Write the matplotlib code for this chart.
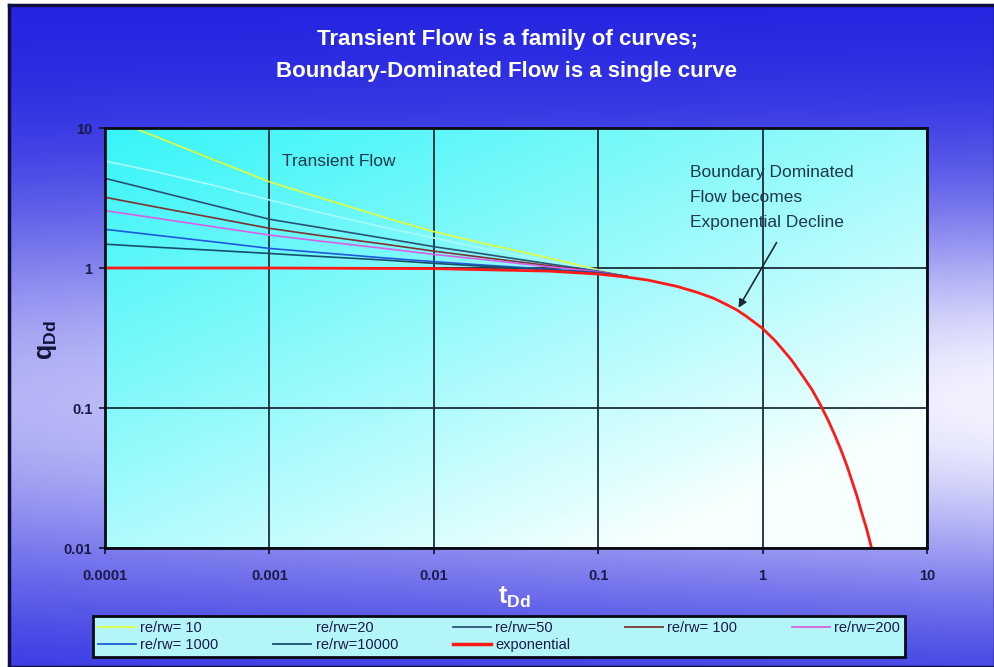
import numpy as np
import matplotlib
matplotlib.use("Agg")
import matplotlib.pyplot as plt
from matplotlib.ticker import FixedLocator, FixedFormatter, NullLocator
from matplotlib.lines import Line2D

# ---------------- data ----------------
t_transient = [1e-4, 2e-4, 5e-4, 1e-3, 2e-3, 5e-3, 1e-2, 2e-2, 5e-2, 1e-1, 1.5e-1]
t_rerw10 = [1.5e-4, 2e-4, 5e-4, 1e-3, 2e-3, 5e-3, 1e-2, 2e-2, 5e-2, 1e-1, 1.5e-1]
q_rerw10 = [10.0, 8.75, 5.7, 4.13, 3.2, 2.3, 1.82, 1.5, 1.18, 0.97, 0.87]
q_rerw20 = [5.8, 4.9, 3.8, 3.06, 2.5, 1.95, 1.64, 1.38, 1.12, 0.96, 0.87]
q_rerw50 = [4.37, 3.57, 2.73, 2.23, 1.95, 1.63, 1.42, 1.26, 1.07, 0.95, 0.87]
q_rerw100 = [3.2, 2.74, 2.24, 1.92, 1.71, 1.48, 1.32, 1.19, 1.04, 0.94, 0.87]
q_rerw200 = [2.57, 2.28, 1.94, 1.72, 1.56, 1.38, 1.25, 1.15, 1.02, 0.94, 0.87]
q_rerw1000 = [1.89, 1.72, 1.52, 1.38, 1.29, 1.18, 1.11, 1.05, 0.98, 0.93, 0.87]
q_rerw10000 = [1.48, 1.41, 1.33, 1.27, 1.21, 1.14, 1.08, 1.03, 0.97, 0.92, 0.87]

t_exp = [1e-4, 1e-3, 1e-2, 0.05, 0.1, 0.15, 0.2, 0.3, 0.4, 0.5, 0.6, 0.7, 0.8, 1.0,
         1.2, 1.5, 1.75, 2.0, 2.25, 2.5, 2.75, 3.0, 3.25, 3.5, 3.75, 4.0, 4.3, 4.6]
q_exp = [1.0, 1.0, 0.99, 0.95, 0.905, 0.86, 0.82, 0.74, 0.67, 0.61, 0.55, 0.50, 0.45, 0.37,
         0.30, 0.22, 0.17, 0.135, 0.105, 0.082, 0.064, 0.05, 0.039, 0.03, 0.0235, 0.018,
         0.0136, 0.01]

series_labels = ["re/rw= 10", "re/rw=20", "re/rw=50", "re/rw= 100", "re/rw=200",
                 "re/rw= 1000", "re/rw=10000", "exponential"]
x_tick_values = [1e-4, 1e-3, 1e-2, 1e-1, 1, 10]
x_tick_labels = ["0.0001", "0.001", "0.01", "0.1", "1", "10"]
y_tick_values = [0.01, 0.1, 1, 10]
y_tick_labels = ["0.01", "0.1", "1", "10"]

title_lines = ["Transient Flow is a family of curves;", "Boundary-Dominated Flow is a single curve"]

# ---------------- style ----------------
plt.rcParams['font.family'] = ['Liberation Sans', 'DejaVu Sans']
plt.rcParams['mathtext.fontset'] = 'custom'
plt.rcParams['mathtext.rm'] = 'Liberation Sans'
plt.rcParams['mathtext.bf'] = 'Liberation Sans:bold'

W, H = 995, 667
fig = plt.figure(figsize=(W / 100, H / 100), dpi=100)
fig.patch.set_facecolor('white')

# background gradient (whole figure)
bg = fig.add_axes([9 / W, 0, 1 - 9 / W, 1 - 5 / H], zorder=-10)
ny, nx = 200, 200
yy, xx = np.mgrid[0:1:ny * 1j, 0:1:nx * 1j]  # yy: 0 at top
ypx = yy * H
L = np.exp(-((ypx - 400) / 210.0) ** 2) * (0.70 + 0.30 * xx)
blue = np.array([0.13, 0.13, 0.88])
light = np.array([0.95, 0.95, 1.0])
img = blue[None, None, :] + (light - blue)[None, None, :] * L[..., None]
bg.imshow(img, aspect='auto', extent=[0, 1, 0, 1], origin='upper')
bg.set_xlim(0, 1)
bg.set_ylim(0, 1)
bg.set_xticks([])
bg.set_yticks([])
for s in bg.spines.values():
    s.set_color('#101040')
    s.set_linewidth(2.5)

# main axes
ax = fig.add_axes([105 / W, 1 - 548 / H, 822 / W, 420 / H])
ax.set_xscale('log')
ax.set_yscale('log')
ax.set_xlim(1e-4, 10)
ax.set_ylim(0.01, 10)

# plot-area gradient (cyan top-left to near white bottom-right)
gy, gx = np.mgrid[0:1:200j, 0:1:200j]  # gy 0 at top
s = np.clip((gx * 0.55 + gy * 0.65), 0, 1)
cyan = np.array([0.22, 0.96, 0.97])
white = np.array([0.97, 1.0, 1.0])
gimg = cyan[None, None, :] + (white - cyan)[None, None, :] * (s ** 1.1)[..., None]
ax.imshow(gimg, aspect='auto', extent=[0, 1, 0, 1], origin='upper',
          transform=ax.transAxes, zorder=0)

colors = ['#E2FF3C', '#A8FAFA', '#2A5272', '#7A3434', '#D860E6', '#1E5ADC', '#16506A', '#FF1A1A']
ax.plot(t_rerw10, q_rerw10, color=colors[0], lw=1.2, zorder=3)
ax.plot(t_transient, q_rerw20, color=colors[1], lw=1.2, zorder=3)
ax.plot(t_transient, q_rerw50, color=colors[2], lw=1.2, zorder=3)
ax.plot(t_transient, q_rerw100, color=colors[3], lw=1.2, zorder=3)
ax.plot(t_transient, q_rerw200, color=colors[4], lw=1.2, zorder=3)
ax.plot(t_transient, q_rerw1000, color=colors[5], lw=1.2, zorder=3)
ax.plot(t_transient, q_rerw10000, color=colors[6], lw=1.2, zorder=3)
ax.plot(t_exp, q_exp, color=colors[7], lw=2.0, zorder=4)

ax.xaxis.set_major_locator(FixedLocator(x_tick_values))
ax.xaxis.set_major_formatter(FixedFormatter(x_tick_labels))
ax.yaxis.set_major_locator(FixedLocator(y_tick_values))
ax.yaxis.set_major_formatter(FixedFormatter(y_tick_labels))
ax.xaxis.set_minor_locator(NullLocator())
ax.yaxis.set_minor_locator(NullLocator())
ax.grid(True, which='major', color='#1C2E3A', lw=1.3, zorder=2)
ax.set_axisbelow(False)
ax.tick_params(axis='x', length=4, width=1.2, pad=11, labelsize=10.5, labelcolor='#1A1A4A',
               color='#101030', direction='out')
ax.tick_params(axis='y', length=4, width=1.2, pad=5, labelsize=10.5, labelcolor='#1A1A4A',
               color='#101030', direction='out')
for lab in ax.get_xticklabels() + ax.get_yticklabels():
    lab.set_fontweight('bold')
for sp in ax.spines.values():
    sp.set_linewidth(2)
    sp.set_color('#0A0A14')
    sp.set_zorder(6)

# titles and labels
fig.text(508 / W, 1 - 40 / H, title_lines[0], ha='center', va='center',
         color='white', fontsize=16, fontweight='bold')
fig.text(507 / W, 1 - 71 / H, title_lines[1], ha='center', va='center',
         color='white', fontsize=16, fontweight='bold')
fig.text(47 / W, 1 - 340 / H, r'$\mathbf{q}_{\mathbf{Dd}}$', rotation=90, ha='center', va='center',
         color='#12123A', fontsize=18)
fig.text(514 / W, 1 - 597 / H, r'$\mathbf{t}_{\mathbf{Dd}}$', ha='center', va='center',
         color='white', fontsize=18)

# annotations
ax.text((282 - 105) / 822, 1 - (162 - 128) / 420, "Transient Flow", transform=ax.transAxes,
        ha='left', va='center', fontsize=12.5, color='#1C3A4C')
for i, line in enumerate(["Boundary Dominated", "Flow becomes", "Exponential Decline"]):
    ax.text((690 - 105) / 822, 1 - (172 + 25 * i - 128) / 420, line, transform=ax.transAxes,
            ha='left', va='center', fontsize=12.5, color='#1C3A4C', zorder=7)
ax.annotate('', xy=(0.7, 0.5), xytext=(1.24, 1.58), xycoords='data', textcoords='data',
            arrowprops=dict(arrowstyle='-|>', color='#1A2A34', lw=1.2, mutation_scale=12),
            zorder=7)

# legend (row-major order via column fill order)
handles = [Line2D([], [], color=c, lw=(2.5 if i == 7 else 1.3)) for i, c in enumerate(colors)]
order = [0, 5, 1, 6, 2, 7, 3, 4]
leg = fig.legend([handles[i] for i in order], [series_labels[i] for i in order],
                 loc='center', bbox_to_anchor=(93 / W, 1 - 660 / H, 812 / W, 47 / H),
                 mode='expand', ncol=5, fontsize=10.5, handlelength=2.6, handletextpad=0.3,
                 borderaxespad=0, borderpad=0.35, labelspacing=0.2, frameon=True, fancybox=False,
                 facecolor='#B4F6F8', edgecolor='#0A0A14', framealpha=1)
leg.get_frame().set_linewidth(2)
for txt in leg.get_texts():
    txt.set_color('#1A1A4A')

fig.savefig('out.png', dpi=100)
